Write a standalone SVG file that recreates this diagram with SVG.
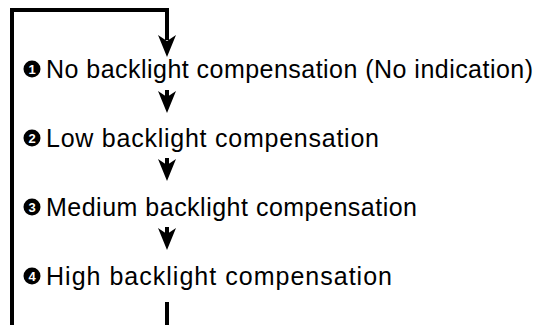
<svg xmlns="http://www.w3.org/2000/svg" width="540" height="325" viewBox="0 0 540 325">
<style>
.t{font-family:"Liberation Sans",Arial,sans-serif;font-size:25px;fill:#000}
.n{font-family:"Liberation Sans",Arial,sans-serif;font-size:13px;font-weight:bold;fill:#fff;text-anchor:middle}
.ln{fill:none;stroke:#000;stroke-width:4}
</style>
<defs>
<path id="ah" d="M-9,-22 L0,-16 L9,-22 L0,0 Z" fill="#000"/>
</defs>
<rect width="540" height="325" fill="#fff"/>
<g id="connectors">
<path class="ln" d="M12,325 L12,10 L167,10 L167,40"/>
<use href="#ah" x="167" y="57"/>
<path class="ln" d="M167,90 L167,98"/>
<use href="#ah" x="167" y="113"/>
<path class="ln" d="M167,158 L167,166"/>
<use href="#ah" x="167" y="181"/>
<path class="ln" d="M167,227 L167,235"/>
<use href="#ah" x="167" y="250"/>
<path class="ln" d="M167,302 L167,325"/>
</g>
<g id="step1">
<circle cx="32" cy="69" r="8.5" fill="#000"/>
<text class="n" x="32" y="73.6">1</text>
<text class="t" x="46" y="78" textLength="487">No backlight compensation (No indication)</text>
</g>
<g id="step2">
<circle cx="32" cy="138" r="8.5" fill="#000"/>
<text class="n" x="32" y="142.6">2</text>
<text class="t" x="46" y="147" textLength="333">Low backlight compensation</text>
</g>
<g id="step3">
<circle cx="32" cy="207" r="8.5" fill="#000"/>
<text class="n" x="32" y="211.6">3</text>
<text class="t" x="46" y="216" textLength="371">Medium backlight compensation</text>
</g>
<g id="step4">
<circle cx="32" cy="276" r="8.5" fill="#000"/>
<text class="n" x="32" y="280.6">4</text>
<text class="t" x="46" y="285" textLength="346">High backlight compensation</text>
</g>
</svg>
